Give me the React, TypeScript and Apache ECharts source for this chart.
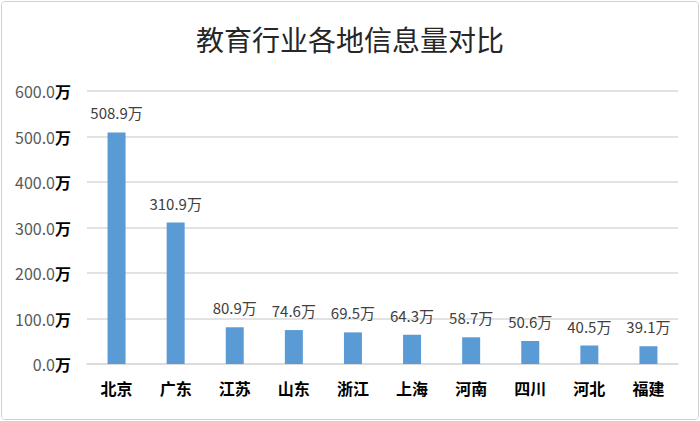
import { useEffect, useRef } from "react";
import * as echarts from "echarts";

const REGIONS = ["北京", "广东", "江苏", "山东", "浙江", "上海", "河南", "四川", "河北", "福建"];
const VALUES = [508.9, 310.9, 80.9, 74.6, 69.5, 64.3, 58.7, 50.6, 40.5, 39.1];
const TITLE = "教育行业各地信息量对比";
const FONT = "'Noto Sans CJK SC', 'Noto Sans', sans-serif";

export default function App() {
  const ref = useRef<HTMLDivElement>(null);

  useEffect(() => {
    if (!ref.current) return;
    const chart = echarts.init(ref.current, undefined, { renderer: "svg" });
    chart.setOption({
      animation: false,
      backgroundColor: "#fff",
      title: {
        text: TITLE,
        left: "center",
        top: 20,
        textStyle: { fontFamily: FONT, fontSize: 28, fontWeight: "normal", color: "#262626" },
      },
      grid: { left: 87, right: 22, top: 91, bottom: 57 },
      xAxis: {
        type: "category",
        data: REGIONS,
        axisTick: { show: false },
        axisLine: { lineStyle: { color: "#d9d9d9", width: 1.5 } },
        axisLabel: { fontFamily: FONT, fontSize: 16, fontWeight: "bold", color: "#000", margin: 16 },
      },
      yAxis: {
        type: "value",
        min: 0,
        max: 600,
        interval: 100,
        axisLine: { show: false },
        axisTick: { show: false },
        splitLine: { lineStyle: { color: "#d9d9d9", width: 1.5 } },
        axisLabel: {
          margin: 16,
          formatter: (v: number) => `{n|${v.toFixed(1)}}{u|万}`,
          rich: {
            n: { fontFamily: FONT, fontSize: 16, color: "#595959" },
            u: { fontFamily: FONT, fontSize: 16, fontWeight: "bold", color: "#000" },
          },
        },
      },
      series: [{
        type: "bar",
        data: VALUES,
        barWidth: 18,
        itemStyle: { color: "#5b9bd5" },
        label: {
          show: true,
          position: "top",
          distance: 12,
          fontFamily: FONT,
          fontSize: 15,
          color: "#404040",
          formatter: (p: { value: number }) => `${p.value.toFixed(1)}万`,
        },
      }],
    });
    return () => chart.dispose();
  }, []);

  return (
    <div style={{ position: "absolute", left: 0, top: 0, width: 700, height: 421, background: "#fff" }}>
      <div
        style={{
          position: "absolute", left: 1, top: 1, width: 696, height: 417,
          border: "1px solid #d0d0d0", borderRadius: 4, overflow: "hidden",
        }}
      >
        <div ref={ref} style={{ position: "absolute", left: -2, top: -2, width: 700, height: 421 }} />
      </div>
    </div>
  );
}
